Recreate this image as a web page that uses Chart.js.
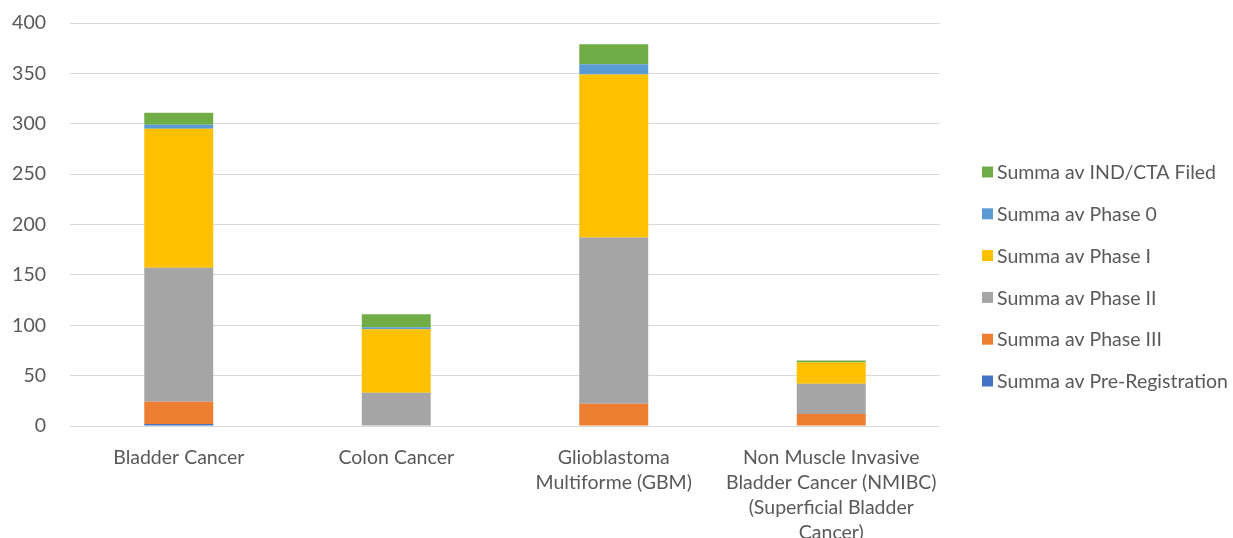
<!DOCTYPE html>
<html><head><meta charset="utf-8">
<script src="https://cdn.jsdelivr.net/npm/chart.js@4"></script>
<style>html,body{margin:0;padding:0;background:#fff}#wrap{width:1233px;height:538px}</style>
</head><body><div id="wrap"><canvas id="c"></canvas></div>
<script>
const categories = [
  "Bladder Cancer",
  "Colon Cancer",
  ["Glioblastoma", "Multiforme (GBM)"],
  ["Non Muscle Invasive", "Bladder Cancer (NMIBC)", "(Superficial Bladder", "Cancer)"]
];
const preRegistration = [2, 0, 0, 0];
const phaseIII = [22, 0, 22, 12];
const phaseII = [133, 33, 165, 30];
const phaseI = [138, 63, 162, 21];
const phase0 = [4, 2, 10, 0];
const indCtaFiled = [12, 13, 20, 2];
const yTicks = [0, 50, 100, 150, 200, 250, 300, 350, 400];

const FONT = "Lato, 'Liberation Sans', sans-serif";
const TXT = "#595959";
const FS = 19.5;

const datasets = [
  {label: "Summa av Pre-Registration", data: preRegistration, backgroundColor: "#4472C4"},
  {label: "Summa av Phase III", data: phaseIII, backgroundColor: "#ED7D31"},
  {label: "Summa av Phase II", data: phaseII, backgroundColor: "#A5A5A5"},
  {label: "Summa av Phase I", data: phaseI, backgroundColor: "#FFC000"},
  {label: "Summa av Phase 0", data: phase0, backgroundColor: "#5B9BD5"},
  {label: "Summa av IND/CTA Filed", data: indCtaFiled, backgroundColor: "#70AD47"}
].map(d => Object.assign(d, {borderWidth: 0, barPercentage: 0.317, categoryPercentage: 1}));

const legendPlugin = {
  id: "customLegend",
  afterDraw(chart) {
    const ctx = chart.ctx;
    const ds = chart.data.datasets.slice().reverse();
    ctx.save();
    ctx.font = FS + "px " + FONT;
    ctx.textBaseline = "middle";
    ds.forEach((d, i) => {
      const y = 172 + i * 41.8;
      ctx.fillStyle = d.backgroundColor;
      ctx.fillRect(982, y - 5.5, 11, 11);
      ctx.fillStyle = TXT;
      ctx.fillText(d.label, 997, y + 1);
    });
    ctx.restore();
  }
};

new Chart(document.getElementById("c"), {
  type: "bar",
  data: {labels: categories, datasets},
  plugins: [legendPlugin],
  options: {
    responsive: true, maintainAspectRatio: false, animation: false,
    layout: {padding: {top: 23, right: 293, left: 0, bottom: 0}},
    plugins: {legend: {display: false}, tooltip: {enabled: false}},
    scales: {
      x: {
        stacked: true,
        grid: {display: false},
        border: {display: false},
        ticks: {color: TXT, font: {family: FONT, size: FS, lineHeight: 1.28}, padding: 11, maxRotation: 0, autoSkip: false},
        afterFit(s) { s.height = 112; s.paddingLeft = 0; s.paddingRight = 0; }
      },
      y: {
        stacked: true, min: 0, max: 400,
        afterBuildTicks(s) { s.ticks = yTicks.map(v => ({value: v})); },
        grid: {color: "#D9D9D9", lineWidth: 1, drawTicks: false},
        border: {display: false},
        ticks: {color: TXT, font: {family: FONT, size: FS}, padding: 24},
        afterFit(s) { s.width = 70; s.paddingTop = 0; s.paddingBottom = 0; }
      }
    }
  }
});
</script></body></html>
